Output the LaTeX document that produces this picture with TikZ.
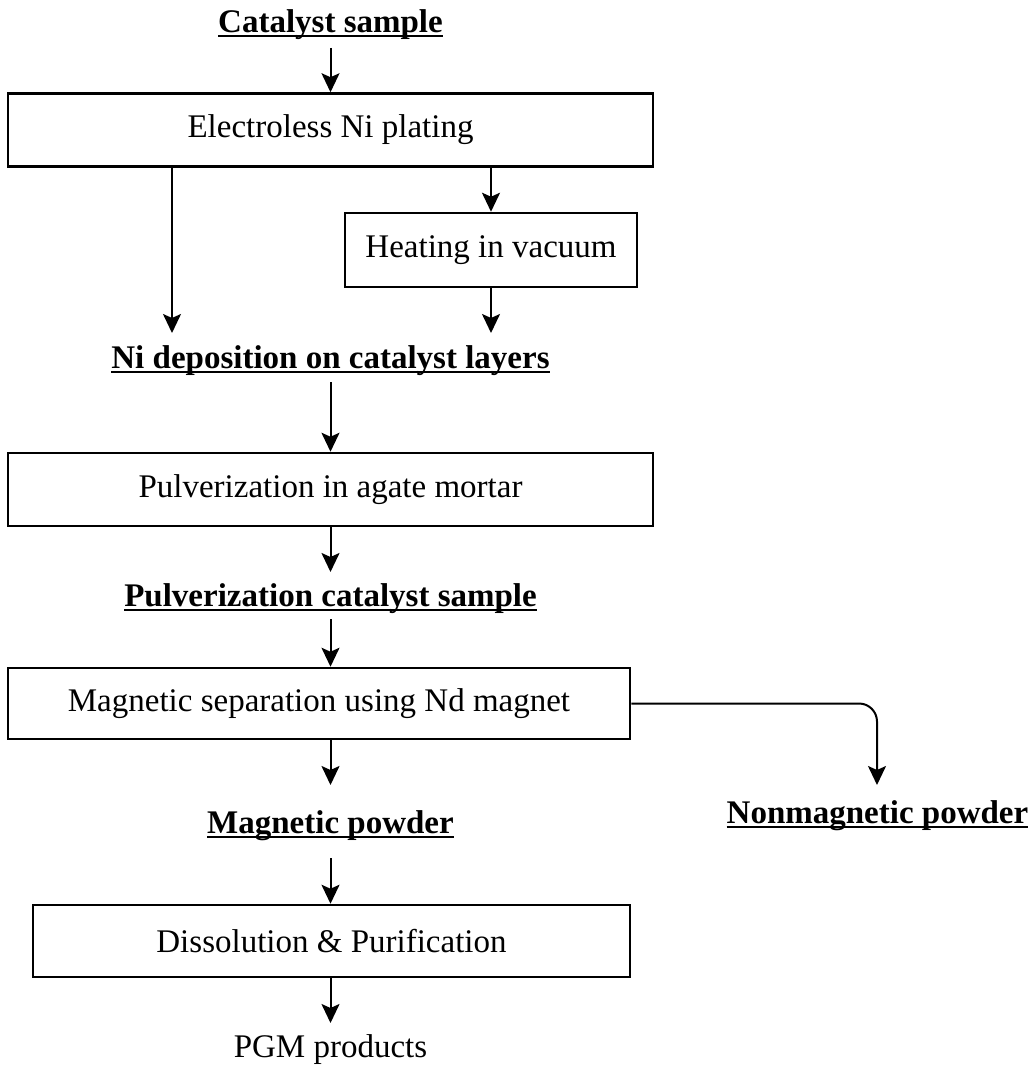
\documentclass[tikz,border=0pt]{standalone}
\usepackage{fontspec}
\setmainfont{Liberation Serif}
\usetikzlibrary{arrows.meta}

\newcommand{\ulabel}[1]{\sbox0{#1}\rlap{\rule[-4.5pt]{\wd0}{2pt}}\usebox0}

\begin{document}
\begin{tikzpicture}[x=1pt,y=-1pt,
    >={Stealth[length=19pt,width=18pt,inset=4pt]},
    box/.style={draw,line width=2.5pt,inner sep=0pt,minimum height=73pt,
        font=\fontsize{33}{38}\selectfont},
    lbl/.style={inner sep=0pt,anchor=base,font=\fontsize{33}{38}\selectfont\bfseries},
    arr/.style={->,line width=2pt}]

                \useasboundingbox (0,0) rectangle (1033,1065);

                \node[lbl] (cat) at (330.5,33) {\ulabel{Catalyst sample}};
                \node[box,minimum width=645pt] (plate) at (330.5,130) {Electroless Ni plating};
                \node[box,minimum width=292pt,minimum height=74pt] (heat) at (491,250) {Heating in vacuum};
                \node[lbl] (ni) at (330.5,368) {\ulabel{Ni deposition on catalyst layers}};
                \node[box,minimum width=645pt] (pulv) at (330.5,489.5) {Pulverization in agate mortar};
                \node[lbl] (pulvs) at (330.5,606) {\ulabel{Pulverization catalyst sample}};
                \node[box,minimum width=622pt,minimum height=71pt] (magsep) at (319,703.5) {Magnetic separation using Nd magnet};
                \node[lbl] (magp) at (330.5,833) {\ulabel{Magnetic powder}};
                \node[lbl] (nonmag) at (877.5,823) {\ulabel{Nonmagnetic powder}};
                \node[box,minimum width=597pt,minimum height=72pt] (diss) at (331.5,941) {Dissolution \& Purification};
                \node[lbl,font=\fontsize{33}{38}\selectfont] (pgm) at (330.5,1057) {PGM products};

                \coordinate (niL) at (172,333);
                \coordinate (niR) at (491,333);
                \coordinate (pulvsTip) at (330.5,572);
                \coordinate (magpTip) at (330.5,785);
                \coordinate (nonmagTip) at (877,785);
                \coordinate (pgmTip) at (330.5,1023);

                \draw[arr] ([yshift=-15pt]cat.base) -- (plate.north);
                \draw[arr] (plate.south -| niL) -- (niL);
                \draw[arr] (plate.south -| heat) -- (heat.north);
                \draw[arr] (heat.south) -- (niR);
                \draw[arr] ([yshift=-14pt]ni.base) -- (pulv.north);
                \draw[arr] (pulv.south -| pulvsTip) -- (pulvsTip);
                \draw[arr] ([yshift=-13pt]pulvs.base) -- (magsep.north -| pulvs.base);
                \draw[arr] (magsep.south -| magpTip) -- (magpTip);
                \draw[arr,rounded corners=18pt] (magsep.east) -| (nonmagTip);
                \draw[arr] ([yshift=-25pt]magp.base) -- (diss.north -| magp.base);
                \draw[arr] (diss.south -| pgmTip) -- (pgmTip);

            \end{tikzpicture}
\end{document}
